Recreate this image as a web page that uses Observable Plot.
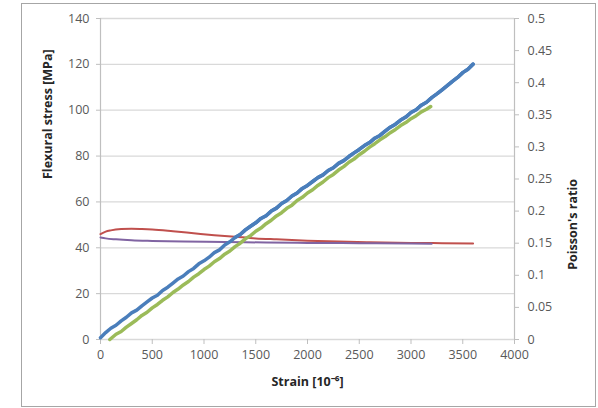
<!DOCTYPE html>
<html>
<head>
<meta charset="utf-8">
<script src="https://cdn.jsdelivr.net/npm/d3@7"></script>
<script src="https://cdn.jsdelivr.net/npm/@observablehq/plot@0.6"></script>
<style>
  html, body { margin: 0; padding: 0; background: #fff; }
  #wrap { position: relative; width: 598px; height: 408px; }
  #border { position: absolute; left: 21px; top: 3px; width: 575px; height: 404px; border: 1px solid #a6a6a6; box-sizing: border-box; pointer-events: none; }
  #chart { position: absolute; left: 0; top: 0; }
</style>
</head>
<body>
<div id="wrap"><div id="chart"></div><div id="border"></div></div>
<script>
// Stress series (left axis, MPa) vs strain (10^-6)
const blueStrain = [0,50,100,150,200,250,300,350,400,450,500,550,600,650,700,750,800,850,900,950,1000,1050,1100,1150,1200,1250,1300,1350,1400,1450,1500,1550,1600,1650,1700,1750,1800,1850,1900,1950,2000,2050,2100,2150,2200,2250,2300,2350,2400,2450,2500,2550,2600,2650,2700,2750,2800,2850,2900,2950,3000,3050,3100,3150,3200,3250,3300,3350,3400,3450,3500,3550,3600];
const blueStress = [0.8,3.0,4.9,6.2,8.1,9.7,11.6,12.8,14.7,16.4,18.1,19.3,21.4,22.8,24.6,26.4,27.7,29.6,31.0,33.0,34.3,35.9,37.9,39.1,41.2,42.6,44.5,45.8,47.8,49.4,50.9,52.8,54.0,56.0,57.3,59.3,60.6,62.6,63.9,65.9,67.2,68.9,70.6,71.8,73.7,74.9,76.8,78.0,79.8,81.4,82.9,84.6,85.9,87.8,89.0,90.9,92.6,93.9,95.7,97.0,99.0,100.2,102.2,103.5,105.5,107.1,108.9,110.7,112.6,114.3,116.4,117.9,120.1];
const greenStrain = [90,150,200,250,300,350,400,450,500,550,600,650,700,750,800,850,900,950,1000,1050,1100,1150,1200,1250,1300,1350,1400,1450,1500,1550,1600,1650,1700,1750,1800,1850,1900,1950,2000,2050,2100,2150,2200,2250,2300,2350,2400,2450,2500,2550,2600,2650,2700,2750,2800,2850,2900,2950,3000,3050,3100,3150,3190];
const greenStress = [0,2.3,3.5,5.4,7.0,8.6,10.5,11.9,13.8,15.3,17.1,18.6,20.5,22.0,23.8,25.3,27.2,28.7,30.5,32.0,33.9,35.3,37.2,38.6,40.5,42.0,43.9,45.3,47.2,48.6,50.5,52.0,53.9,55.3,57.2,58.6,60.6,62.0,63.9,65.3,67.2,68.7,70.6,72.0,73.9,75.4,77.3,78.7,80.6,82.1,83.9,85.4,87.1,88.5,90.2,91.6,93.3,94.6,96.3,97.6,99.3,100.4,101.6];
// Poisson's ratio series (right axis)
const redStrain = [0,50,100,200,300,400,500,700,900,1100,1300,1500,1700,2000,2300,2600,3000,3300,3600];
const redPoisson = [0.164,0.168,0.170,0.172,0.1725,0.172,0.1712,0.1685,0.1655,0.1625,0.160,0.1575,0.156,0.154,0.1525,0.1515,0.1505,0.150,0.1495];
const purpleStrain = [0,50,150,300,500,800,1200,1600,2000,2500,3000,3200];
const purplePoisson = [0.159,0.1575,0.156,0.1545,0.1535,0.1525,0.152,0.151,0.1505,0.150,0.1495,0.149];
// Tick labels
const xTicks = [0,500,1000,1500,2000,2500,3000,3500,4000];
const yTicks = [0,20,40,60,80,100,120,140];
const rightTicks = [0,0.05,0.1,0.15,0.2,0.25,0.3,0.35,0.4,0.45,0.5];
const xTitle = "Strain [10\u207B\u2076]";
const yTitle = "Flexural stress [MPa]";
const rTitle = "Poisson's ratio";

const ratioScale = 140 / 0.5; // right axis 0..0.5 maps onto left 0..140

const zip = (xs, ys) => xs.map((x, i) => ({x, y: ys[i]}));
const blue = zip(blueStrain, blueStress);
const green = zip(greenStrain, greenStress);
const red = zip(redStrain, redPoisson);
const purple = zip(purpleStrain, purplePoisson);

const font = "'Open Sans', sans-serif";
const chart = Plot.plot({
  width: 598,
  height: 408,
  marginLeft: 100,
  marginRight: 84,
  marginTop: 18,
  marginBottom: 69,
  style: {fontFamily: font, fontSize: "12.5px", background: "transparent"},
  x: {domain: [0, 4000]},
  y: {domain: [0, 140]},
  marks: [
    Plot.gridY(yTicks, {stroke: "#d9d9d9", strokeOpacity: 1, strokeWidth: 1.3}),
    Plot.ruleX([0], {stroke: "#bfbfbf", strokeWidth: 1.2}),
    Plot.ruleX([4000], {stroke: "#bfbfbf", strokeWidth: 1.2}),
    Plot.axisY(yTicks, {anchor: "left", tickSize: 4, tickPadding: 7, stroke: "#bfbfbf", fill: "#595959", label: null}),
    Plot.axisY(rightTicks.map(v => v * ratioScale), {anchor: "right", tickSize: 4, tickPadding: 9, stroke: "#bfbfbf", fill: "#595959", label: null,
      tickFormat: d => String(+(d / ratioScale).toFixed(2))}),
    Plot.axisX(xTicks, {anchor: "bottom", tickSize: 5, tickPadding: 6, stroke: "#bfbfbf", fill: "#595959", label: null, tickFormat: d => String(d)}),
    Plot.line(red, {x: "x", y: d => d.y * ratioScale, stroke: "#C0504D", strokeWidth: 2, curve: "monotone-x"}),
    Plot.line(purple, {x: "x", y: d => d.y * ratioScale, stroke: "#8064A2", strokeWidth: 2, curve: "monotone-x"}),
    Plot.line(blue, {x: "x", y: "y", stroke: "#4A7EBB", strokeWidth: 3.5}),
    Plot.line(green, {x: "x", y: "y", stroke: "#9BBB59", strokeWidth: 3.5}),
    Plot.line(blue, {x: "x", y: "y", stroke: "#4A7EBB", strokeWidth: 3.5, filter: d => d.x >= 1300}),
    Plot.text([yTitle], {frameAnchor: "left", dx: -53, rotate: -90, fontWeight: "bold", fill: "#262626", fontSize: 12.5}),
    Plot.text([rTitle], {frameAnchor: "right", dx: 58, rotate: -90, fontWeight: "bold", fill: "#262626", fontSize: 12.5}),
    Plot.text([xTitle], {frameAnchor: "bottom", dy: 46, fontWeight: "bold", fill: "#262626", fontSize: 12.5})
  ]
});
document.getElementById("chart").appendChild(chart);
</script>
</body>
</html>
